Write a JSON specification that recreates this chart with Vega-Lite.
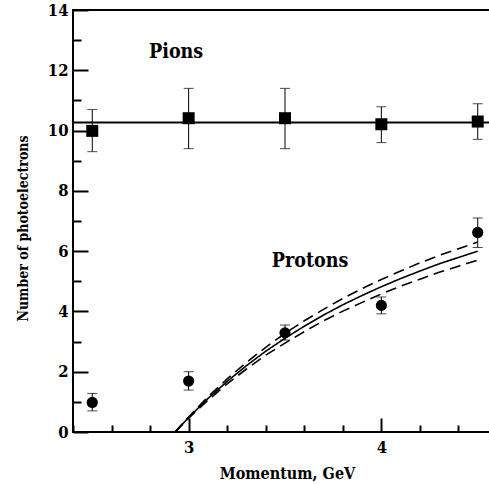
{
  "$schema": "https://vega.github.io/schema/vega-lite/v6.json",
  "width": 424,
  "height": 422,
  "autosize": {"type": "none"},
  "padding": {"left": 73, "top": 10, "right": 0, "bottom": 52},
  "background": "white",
  "config": {
    "font": "DejaVu Serif Condensed, DejaVu Serif",
    "view": {"stroke": "black", "strokeWidth": 2},
    "axis": {
      "labelFont": "DejaVu Serif Condensed, DejaVu Serif",
      "labelFontWeight": "bold",
      "labelColor": "black",
      "titleFont": "DejaVu Serif Condensed, DejaVu Serif",
      "titleFontWeight": "bold",
      "titleColor": "black",
      "grid": false,
      "domain": false,
      "tickColor": "black",
      "tickWidth": 2,
      "labelOverlap": false,
      "labelFlush": false,
      "labelBound": false
    }
  },
  "datasets": {
    "points": [
      {"series": "Pions", "x": 2.5, "y": 9.99, "lo": 9.3, "hi": 10.7},
      {"series": "Pions", "x": 3.0, "y": 10.41, "lo": 9.4, "hi": 11.4},
      {"series": "Pions", "x": 3.5, "y": 10.41, "lo": 9.4, "hi": 11.4},
      {"series": "Pions", "x": 4.0, "y": 10.21, "lo": 9.6, "hi": 10.79},
      {"series": "Pions", "x": 4.5, "y": 10.3, "lo": 9.71, "hi": 10.89},
      {"series": "Protons", "x": 2.5, "y": 0.98, "lo": 0.7, "hi": 1.28},
      {"series": "Protons", "x": 3.0, "y": 1.69, "lo": 1.39, "hi": 2.0},
      {"series": "Protons", "x": 3.5, "y": 3.29, "lo": 3.05, "hi": 3.55},
      {"series": "Protons", "x": 4.0, "y": 4.2, "lo": 3.92, "hi": 4.48},
      {"series": "Protons", "x": 4.5, "y": 6.62, "lo": 6.12, "hi": 7.1}
    ],
    "pionfit": [
      {"x": 2.4, "y": 10.27},
      {"x": 4.6, "y": 10.27}
    ],
    "curves": [
      {"band": "mid", "x": 2.93, "y": 0},
      {"band": "mid", "x": 2.95, "y": 0.14},
      {"band": "mid", "x": 3.0, "y": 0.48},
      {"band": "mid", "x": 3.1, "y": 1.11},
      {"band": "mid", "x": 3.2, "y": 1.68},
      {"band": "mid", "x": 3.3, "y": 2.2},
      {"band": "mid", "x": 3.4, "y": 2.68},
      {"band": "mid", "x": 3.5, "y": 3.11},
      {"band": "mid", "x": 3.6, "y": 3.51},
      {"band": "mid", "x": 3.7, "y": 3.88},
      {"band": "mid", "x": 3.8, "y": 4.22},
      {"band": "mid", "x": 3.9, "y": 4.53},
      {"band": "mid", "x": 4.0, "y": 4.82},
      {"band": "mid", "x": 4.1, "y": 5.09},
      {"band": "mid", "x": 4.2, "y": 5.34},
      {"band": "mid", "x": 4.3, "y": 5.58},
      {"band": "mid", "x": 4.4, "y": 5.79},
      {"band": "mid", "x": 4.5, "y": 6.0},
      {"band": "upper", "x": 2.93, "y": 0},
      {"band": "upper", "x": 2.95, "y": 0.15},
      {"band": "upper", "x": 3.0, "y": 0.5},
      {"band": "upper", "x": 3.1, "y": 1.17},
      {"band": "upper", "x": 3.2, "y": 1.76},
      {"band": "upper", "x": 3.3, "y": 2.31},
      {"band": "upper", "x": 3.4, "y": 2.81},
      {"band": "upper", "x": 3.5, "y": 3.27},
      {"band": "upper", "x": 3.6, "y": 3.69},
      {"band": "upper", "x": 3.7, "y": 4.07},
      {"band": "upper", "x": 3.8, "y": 4.43},
      {"band": "upper", "x": 3.9, "y": 4.76},
      {"band": "upper", "x": 4.0, "y": 5.06},
      {"band": "upper", "x": 4.1, "y": 5.34},
      {"band": "upper", "x": 4.2, "y": 5.61},
      {"band": "upper", "x": 4.3, "y": 5.86},
      {"band": "upper", "x": 4.4, "y": 6.08},
      {"band": "upper", "x": 4.5, "y": 6.3},
      {"band": "lower", "x": 2.93, "y": 0},
      {"band": "lower", "x": 2.95, "y": 0.13},
      {"band": "lower", "x": 3.0, "y": 0.46},
      {"band": "lower", "x": 3.1, "y": 1.05},
      {"band": "lower", "x": 3.2, "y": 1.6},
      {"band": "lower", "x": 3.3, "y": 2.09},
      {"band": "lower", "x": 3.4, "y": 2.55},
      {"band": "lower", "x": 3.5, "y": 2.95},
      {"band": "lower", "x": 3.6, "y": 3.33},
      {"band": "lower", "x": 3.7, "y": 3.69},
      {"band": "lower", "x": 3.8, "y": 4.01},
      {"band": "lower", "x": 3.9, "y": 4.3},
      {"band": "lower", "x": 4.0, "y": 4.58},
      {"band": "lower", "x": 4.1, "y": 4.84},
      {"band": "lower", "x": 4.2, "y": 5.07},
      {"band": "lower", "x": 4.3, "y": 5.3},
      {"band": "lower", "x": 4.4, "y": 5.5},
      {"band": "lower", "x": 4.5, "y": 5.7}
    ],
    "labels": [
      {"text": "Pions", "x": 2.935, "y": 12.41},
      {"text": "Protons", "x": 3.63, "y": 5.47}
    ]
  },
  "layer": [
    {
      "data": {"name": "pionfit"},
      "mark": {"type": "line", "color": "black", "strokeWidth": 2},
      "encoding": {
        "x": {
          "field": "x", "type": "quantitative",
          "scale": {"domain": [2.4, 4.6], "nice": false, "zero": false},
          "axis": {
            "title": "Momentum, GeV",
            "titleFontSize": 16,
            "titleX": 214,
            "titleY": 46,
            "titleBaseline": "alphabetic",
            "titleAnchor": "middle",
            "values": [2.4, 2.6, 2.8, 3, 3.2, 3.4, 3.6, 3.8, 4, 4.2, 4.4, 4.6],
            "tickCount": 40,
            "labelFontSize": 16.5,
            "labelPadding": 21.5,
            "labelOverlap": false,
            "labelFlush": false,
            "tickSize": {"condition": {"test": "abs(datum.value - round(datum.value)) < 0.001", "value": -14}, "value": -7},
            "labelExpr": "abs(datum.value - round(datum.value)) < 0.001 ? '' + round(datum.value) : ''"
          }
        },
        "y": {
          "field": "y", "type": "quantitative",
          "scale": {"domain": [0, 14], "nice": false, "zero": false},
          "axis": {
            "title": "Number of photoelectrons",
            "titleFontSize": 14,
            "titleX": -46,
            "titleY": 218,
            "titleAngle": -90,
            "titleBaseline": "alphabetic",
            "titleAnchor": "middle",
            "values": [0, 1, 2, 3, 4, 5, 6, 7, 8, 9, 10, 11, 12, 13, 14],
            "tickCount": 40,
            "labelFontSize": 16.5,
            "labelPadding": 20,
            "labelOverlap": false,
            "labelFlush": false,
            "tickSize": {"condition": {"test": "datum.value % 2 === 0", "value": -15}, "value": -8},
            "labelExpr": "datum.value % 2 === 0 ? '' + round(datum.value) : ''"
          }
        }
      }
    },
    {
      "data": {"name": "curves"},
      "mark": {"type": "line", "color": "black", "strokeWidth": 1.6},
      "encoding": {
        "x": {"field": "x", "type": "quantitative"},
        "y": {"field": "y", "type": "quantitative"},
        "detail": {"field": "band", "type": "nominal"},
        "strokeDash": {
          "field": "band", "type": "nominal",
          "scale": {"domain": ["mid", "upper", "lower"], "range": [[1, 0], [11, 6], [11, 6]]},
          "legend": null
        }
      }
    },
    {
      "data": {"name": "points"},
      "mark": {"type": "rule", "color": "black", "strokeWidth": 1},
      "encoding": {
        "x": {"field": "x", "type": "quantitative"},
        "y": {"field": "lo", "type": "quantitative"},
        "y2": {"field": "hi"}
      }
    },
    {
      "data": {"name": "points"},
      "mark": {"type": "tick", "orient": "horizontal", "color": "black", "thickness": 1, "size": 10},
      "encoding": {
        "x": {"field": "x", "type": "quantitative"},
        "y": {"field": "lo", "type": "quantitative"}
      }
    },
    {
      "data": {"name": "points"},
      "mark": {"type": "tick", "orient": "horizontal", "color": "black", "thickness": 1, "size": 10},
      "encoding": {
        "x": {"field": "x", "type": "quantitative"},
        "y": {"field": "hi", "type": "quantitative"}
      }
    },
    {
      "data": {"name": "points"},
      "mark": {"type": "point", "filled": true, "color": "black", "opacity": 1},
      "encoding": {
        "x": {"field": "x", "type": "quantitative"},
        "y": {"field": "y", "type": "quantitative"},
        "shape": {
          "field": "series", "type": "nominal",
          "scale": {"domain": ["Pions", "Protons"], "range": ["square", "circle"]},
          "legend": null
        },
        "size": {
          "field": "series", "type": "nominal",
          "scale": {"domain": ["Pions", "Protons"], "range": [144, 125]},
          "legend": null
        }
      }
    },
    {
      "data": {"name": "labels"},
      "mark": {"type": "text", "font": "DejaVu Serif Condensed, DejaVu Serif", "fontWeight": "bold", "fontSize": 19.5, "align": "center", "baseline": "alphabetic", "color": "black"},
      "encoding": {
        "x": {"field": "x", "type": "quantitative"},
        "y": {"field": "y", "type": "quantitative"},
        "text": {"field": "text"}
      }
    }
  ]
}
